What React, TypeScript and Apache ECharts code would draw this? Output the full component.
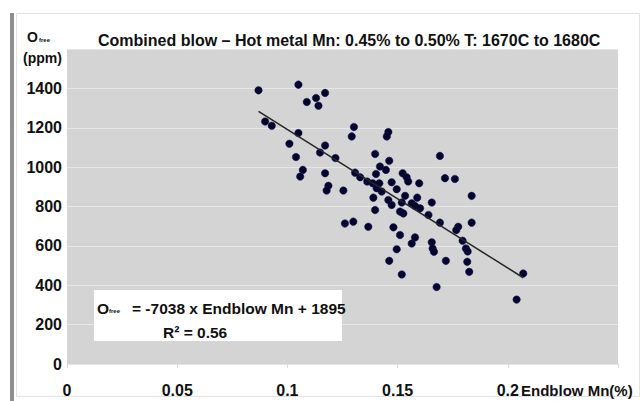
import React, { useEffect, useRef } from "react";
import * as echarts from "echarts";

const mnEndblow = [
  0.0869, 0.105, 0.1088, 0.113, 0.1141, 0.1171, 0.0899, 0.0929, 0.105, 0.1009,
  0.1039, 0.107, 0.1058, 0.1171, 0.1148, 0.1218, 0.1171, 0.1186, 0.1178, 0.1254,
  0.1302, 0.1292, 0.1458, 0.1451, 0.1398, 0.1692, 0.1462, 0.142, 0.1447, 0.1402,
  0.1307, 0.133, 0.1362, 0.1387, 0.1417, 0.1405, 0.1428, 0.1473, 0.1523, 0.1541,
  0.1548, 0.1598, 0.1715, 0.176, 0.139, 0.1496, 0.1534, 0.1458, 0.1473, 0.1519,
  0.1564, 0.1589, 0.1579, 0.1602, 0.1655, 0.1398, 0.1511, 0.1526, 0.164, 0.1261,
  0.1299, 0.1367, 0.1481, 0.1692, 0.1836, 0.1775, 0.1766, 0.1836, 0.1511, 0.1496,
  0.1564, 0.1579, 0.1655, 0.1659, 0.1665, 0.1795, 0.181, 0.1818, 0.1719, 0.1816,
  0.1825, 0.1462, 0.1519, 0.1677, 0.207, 0.204,
];
const oxygenFree = [
  1390, 1419, 1331, 1351, 1312, 1377, 1232, 1210, 1173, 1119,
  1051, 986, 952, 1110, 1074, 1046, 969, 905, 881, 881,
  1204, 1156, 1178, 1156, 1067, 1057, 1032, 1003, 986, 965,
  972, 949, 927, 918, 918, 893, 876, 923, 969, 949,
  927, 918, 944, 940, 845, 888, 854, 833, 808, 820,
  816, 845, 803, 791, 820, 782, 774, 765, 757, 714,
  723, 697, 694, 718, 854, 697, 680, 718, 655, 583,
  612, 643, 618, 587, 570, 626, 587, 572, 524, 519,
  468, 524, 455, 391, 460, 327,
];
const xTickLabels = ["0", "0.05", "0.1", "0.15", "0.2"];
const yTickLabels = ["0", "200", "400", "600", "800", "1000", "1200", "1400"];
const TITLE = "Combined blow – Hot metal Mn: 0.45% to 0.50% T: 1670C to 1680C";
const X_NAME = "Endblow Mn(%)";
const Y_NAME_UNIT = "(ppm)";
const TREND_SLOPE = -7038;
const TREND_INTERCEPT = 1895;
const R_SQUARED = "0.56";

const FONT = "Liberation Sans, Arial, sans-serif";

export default function App() {
  const ref = useRef<HTMLDivElement>(null);
  useEffect(() => {
    const chart = echarts.init(ref.current!, null, { renderer: "svg" });
    const pts = mnEndblow.map((x, i) => [x, oxygenFree[i]]);
    const xmin = Math.min(...mnEndblow);
    const xmax = Math.max(...mnEndblow);
    const trend = [
      [xmin, TREND_SLOPE * xmin + TREND_INTERCEPT],
      [xmax, TREND_SLOPE * xmax + TREND_INTERCEPT],
    ];
    const txt = (x: number, y: number, text: string, size: number, weight = "bold") => ({
      type: "text",
      x,
      y,
      z: 10,
      style: {
        text,
        fill: "#111",
        font: `${weight} ${size}px ${FONT}`,
        verticalAlign: "middle",
        align: "left",
      },
    });
    chart.setOption({
      animation: false,
      backgroundColor: "#ffffff",
      grid: {
        left: 67,
        right: 23,
        top: 49,
        bottom: 37,
        show: true,
        backgroundColor: "#d4d4d4",
        borderWidth: 0,
      },
      xAxis: {
        type: "value",
        min: 0,
        max: 0.25,
        interval: 0.05,
        axisLine: { show: true, lineStyle: { color: "#e4e4e4" } },
        axisTick: { show: true, length: 4, lineStyle: { color: "#dadada" } },
        splitLine: { show: false },
        axisLabel: {
          margin: 18,
          color: "#111",
          fontSize: 16,
          fontWeight: "bold",
          fontFamily: FONT,
          formatter: (v: number) => xTickLabels[Math.round(v / 0.05)] ?? "",
        },
      },
      yAxis: {
        type: "value",
        min: 0,
        max: 1600,
        interval: 200,
        axisLine: { show: false },
        axisTick: { show: false },
        splitLine: { show: true, lineStyle: { color: "#e6e6e6", width: 1 } },
        axisLabel: {
          margin: 5,
          color: "#111",
          fontSize: 16,
          fontWeight: "bold",
          fontFamily: FONT,
          formatter: (v: number) => yTickLabels[Math.round(v / 200)] ?? "",
        },
      },
      series: [
        {
          type: "scatter",
          data: pts,
          symbolSize: 7.5,
          itemStyle: { color: "#04042e", borderColor: "#1a1a5a", borderWidth: 0.5, opacity: 1 },
          z: 3,
        },
        {
          type: "line",
          data: trend,
          symbol: "none",
          lineStyle: { color: "#262626", width: 1.5 },
          z: 4,
        },
      ],
      graphic: [
        { type: "rect", z: -1, shape: { x: 16.5, y: 13.5, width: 623, height: 383 }, style: { fill: "none", stroke: "#e2e2e2", lineWidth: 1 } },
        { type: "rect", z: 10, shape: { x: 10, y: 13, width: 4, height: 388 }, style: { fill: "#8f8f8f" } },
        txt(98, 40, TITLE, 16),
        txt(27, 37, "O", 14),
        txt(39, 40, "free", 6),
        txt(23, 58, Y_NAME_UNIT, 14),
        { type: "rect", z: 9, shape: { x: 94, y: 290, width: 248, height: 51 }, style: { fill: "#ffffff" } },
        txt(97, 308, "O", 15.5),
        txt(109, 311, "free", 6),
        txt(132, 308, `= ${TREND_SLOPE} x Endblow Mn + ${TREND_INTERCEPT}`, 15.5),
        txt(163, 332, `R² = ${R_SQUARED}`, 15.5),
        txt(521, 390, X_NAME, 15),
      ],
    });
    return () => chart.dispose();
  }, []);
  return <div ref={ref} style={{ position: "fixed", left: 0, top: 0, width: 641, height: 401 }} />;
}
